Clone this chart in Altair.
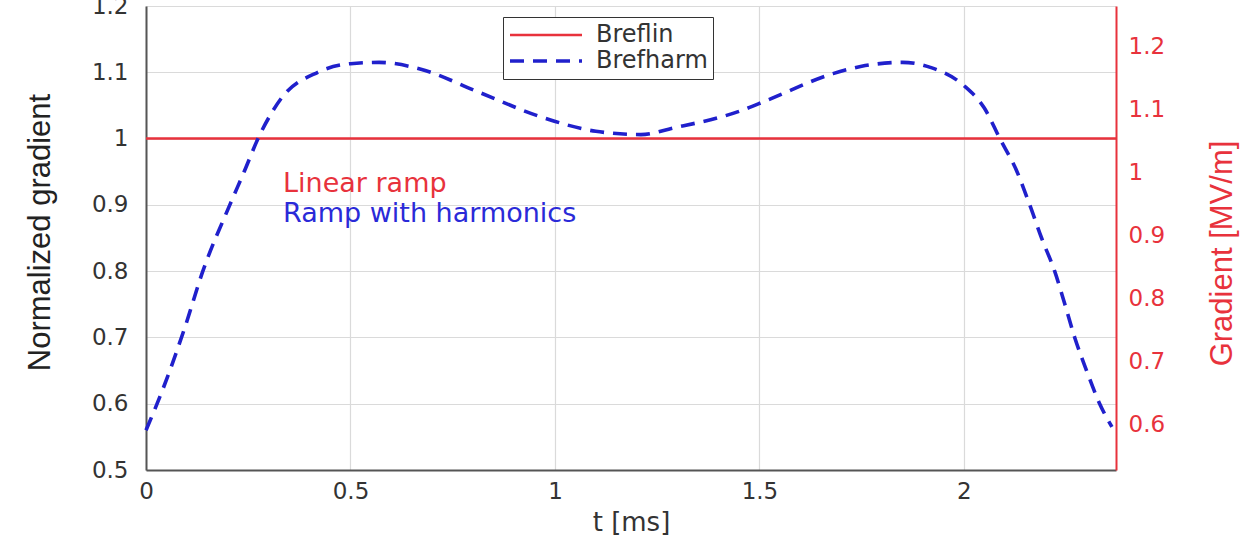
import altair as alt
import pandas as pd

# ---- data ----
series_names = ["Breflin", "Brefharm"]

t_lin = [0.0, 2.372]
v_lin = [1.0, 1.0]

t_harm = [0.00, 0.04, 0.095, 0.139, 0.205, 0.24, 0.274, 0.33, 0.42, 0.50, 0.57,
          0.67, 0.81, 0.96, 1.10, 1.21, 1.29, 1.45, 1.52, 1.68, 1.75, 1.85,
          1.92, 2.00, 2.05, 2.088, 2.13, 2.161, 2.19, 2.222, 2.247, 2.271, 2.30, 2.332, 2.362]
v_harm = [0.56, 0.62, 0.715, 0.80, 0.90, 0.95, 1.00, 1.06, 1.10, 1.113, 1.115,
          1.105, 1.071, 1.034, 1.011, 1.006, 1.016, 1.041, 1.058, 1.098, 1.109, 1.115,
          1.107, 1.080, 1.046, 1.000, 0.95, 0.90, 0.85, 0.80, 0.75, 0.70, 0.65, 0.60, 0.565]

G0 = 1.054  # MV/m corresponding to normalized gradient 1

x_ticks = [0, 0.5, 1, 1.5, 2]
y_ticks = [0.5, 0.6, 0.7, 0.8, 0.9, 1.0, 1.1, 1.2]
y2_ticks = [0.6, 0.7, 0.8, 0.9, 1.0, 1.1, 1.2]

annot_text = ["Linear ramp", "Ramp with harmonics"]
annot_t = [0.335, 0.335]
annot_v = [0.932, 0.886]

RED = "#e8323c"
BLUE = "#2020cc"
TXT = "#333333"
GRID = "#dadada"
TITLE_FONT = "Liberation Sans Narrow, Liberation Sans"

df = pd.DataFrame({
    "t": t_lin + t_harm,
    "v": v_lin + v_harm,
    "series": [series_names[0]] * len(t_lin) + [series_names[1]] * len(t_harm),
})

x_enc = alt.X(
    "t:Q",
    scale=alt.Scale(domain=[0, 2.372], nice=False, zero=False),
    axis=alt.Axis(
        values=x_ticks, format="~g", title="t [ms]",
        titleX=485, titleY=52, titleBaseline="middle", titleAlign="center",
        titleFontSize=26, titleFont="DejaVu Sans", titleFontWeight="normal", titleColor=TXT,
        labelFontSize=23, labelFont="DejaVu Sans", labelColor=TXT, labelPadding=10,
        labelFlush=False, labelOverlap=False,
        ticks=False, tickSize=0, domainColor="#555555", domainWidth=2,
        grid=True, gridColor=GRID, gridWidth=1.2,
    ),
)

y_enc = alt.Y(
    "v:Q",
    scale=alt.Scale(domain=[0.5, 1.2], nice=False, zero=False),
    axis=alt.Axis(
        values=y_ticks, format=".1~f", title="Normalized gradient",
        titleX=-106, titleY=226, titleAngle=270, titleBaseline="middle", titleAlign="center",
        titleFontSize=31, titleFont=TITLE_FONT,
        titleFontWeight="normal", titleColor="#222222",
        labelFontSize=23, labelFont="DejaVu Sans", labelColor=TXT, labelPadding=18,
        labelFlush=False, labelOverlap=False,
        ticks=False, tickSize=0, domainColor="#555555", domainWidth=2,
        grid=True, gridColor=GRID, gridWidth=1.2,
    ),
)

lines = alt.Chart(df).mark_line(interpolate="monotone").encode(
    x=x_enc,
    y=y_enc,
    color=alt.Color("series:N", scale=alt.Scale(domain=series_names, range=[RED, BLUE]),
                    legend=alt.Legend(title=None)),
    strokeDash=alt.StrokeDash("series:N", scale=alt.Scale(domain=series_names, range=[[1, 0], [14, 9]]),
                              legend=alt.Legend(title=None)),
    strokeWidth=alt.StrokeWidth("series:N", scale=alt.Scale(domain=series_names, range=[2.6, 3.6]),
                                legend=None),
)

ann1 = alt.Chart(pd.DataFrame({"t": [annot_t[0]], "v": [annot_v[0]], "label": [annot_text[0]]})).mark_text(
    align="left", baseline="middle", fontSize=27, font="DejaVu Sans", color=RED
).encode(x="t:Q", y="v:Q", text="label:N")

ann2 = alt.Chart(pd.DataFrame({"t": [annot_t[1]], "v": [annot_v[1]], "label": [annot_text[1]]})).mark_text(
    align="left", baseline="middle", fontSize=27, font="DejaVu Sans", color="#2a2ad8"
).encode(x="t:Q", y="v:Q", text="label:N")

left = alt.layer(lines, ann1, ann2)

right = alt.Chart(pd.DataFrame({"t": [0.0], "g": [G0]})).mark_point(opacity=0).encode(
    x="t:Q",
    y=alt.Y(
        "g:Q",
        scale=alt.Scale(domain=[0.5 * G0, 1.2 * G0], nice=False, zero=False),
        axis=alt.Axis(
            orient="right", values=y2_ticks, format=".1~f", title="Gradient [MV/m]",
            titleX=106, titleY=247, titleAngle=270, titleBaseline="middle", titleAlign="center",
            titleFontSize=31, titleFont=TITLE_FONT,
            titleFontWeight="normal", titleColor=RED,
            labelFontSize=23, labelFont="DejaVu Sans", labelColor=RED, labelPadding=12,
            labelFlush=False, labelOverlap=False,
            ticks=False, tickSize=0, domainColor=RED, domainWidth=2, grid=False,
        ),
    ),
)

chart = alt.layer(left, right).resolve_scale(y="independent").properties(
    width=970, height=464,
    autosize=alt.AutoSizeParams(type="none"),
    padding={"left": 146, "top": 6, "right": 126, "bottom": 69},
    background="white",
).configure_view(stroke=None).configure_legend(
    orient="none", legendX=357, legendY=11, padding=5,
    fillColor="white", strokeColor="#333333", cornerRadius=0,
    symbolType="stroke", symbolSize=5184, symbolStrokeWidth=3, clipHeight=26,
    labelFontSize=24, labelFont="DejaVu Sans", labelColor=TXT, labelOffset=12,
    rowPadding=0,
)

chart.save("out.html", embed_options={"renderer": "svg", "actions": False})
